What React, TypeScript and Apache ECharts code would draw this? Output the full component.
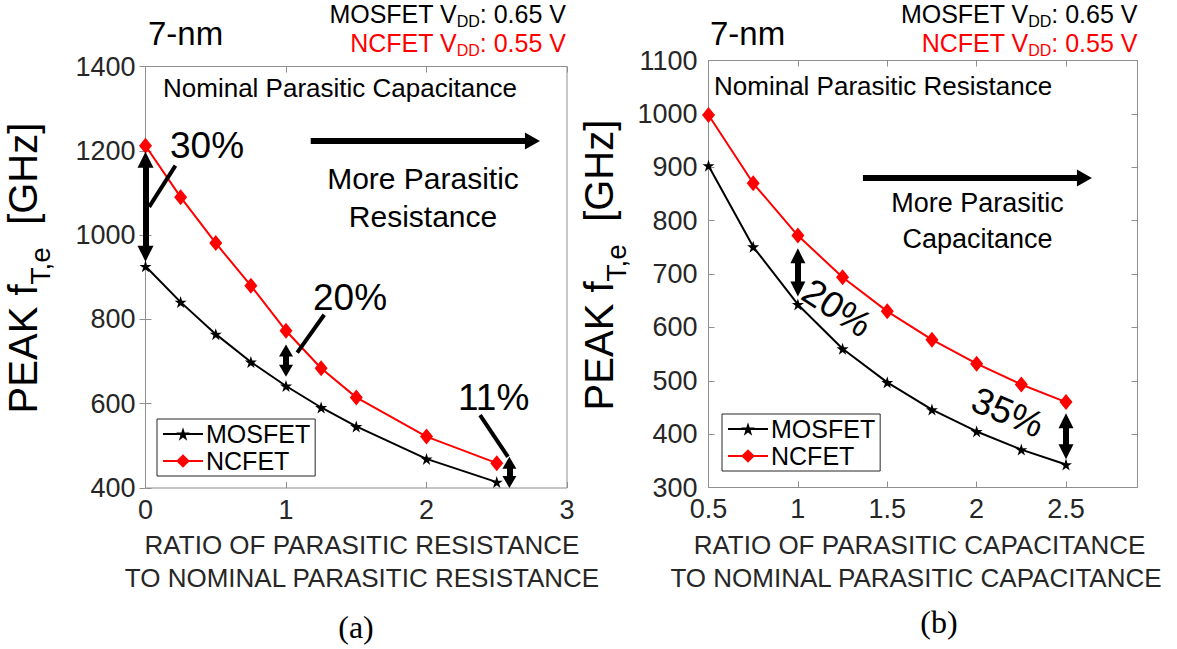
import React, { useEffect, useRef } from 'react';
import * as echarts from 'echarts';

// ---------- data ----------
const resRatio = [0, 0.25, 0.5, 0.75, 1, 1.25, 1.5, 2, 2.5];
const resMosfet = [926, 841, 765, 699, 642, 591, 546, 469, 414];
const resNcfet = [1212, 1090, 981, 880, 773, 684, 615, 522, 459];

const capRatio = [0.5, 0.75, 1, 1.25, 1.5, 1.75, 2, 2.25, 2.5];
const capMosfet = [903, 751, 643, 560, 497, 446, 405, 371, 343];
const capNcfet = [998, 870, 772, 694, 630, 577, 532, 493, 460];

const resXRange = { min: 0, max: 3, interval: 1 };
const resYRange = { min: 400, max: 1400, interval: 200 };
const capXRange = { min: 0.5, max: 2.9, interval: 0.5 };
const capYRange = { min: 300, max: 1100, interval: 100 };

const seriesNames = ['MOSFET', 'NCFET'];

// annotation arrows (data coordinates)
const resGapArrows = [
  { x: 0, from: 1179, to: 956, head: [16, 16] },
  { x: 1, from: 726, to: 678, head: [14, 12] },
  { x: 2.59, from: 460, to: 414, head: [14, 12] },
];
const resPointers = [
  [[0.213, 1165], [0.026, 1067]],
  [[1.272, 811], [1.08, 721]],
  [[2.381, 573], [2.58, 474]],
];
const resTrendArrow = { y: 1223, from: 1.176, to: 2.754 };

const capGapArrows = [
  { x: 1, from: 734, to: 672, head: [15, 15] },
  { x: 2.5, from: 425, to: 367, head: [15, 15] },
];
const capTrendArrow = { y: 880, from: 1.364, to: 2.603 };

// ---------- styles ----------
const FONT = '"Liberation Sans", Arial, Helvetica, sans-serif';
const SERIF = '"Liberation Serif", "Times New Roman", serif';
const AX = '#8f8f8f';
const LBL = '#262626';
const STAR =
  'path://M50,0L61.8,35.5L99,35.5L68.9,57.4L80.3,92.7L50,70.8L19.7,92.7L31.1,57.4L1,35.5L38.2,35.5Z';

const zip = (xs: number[], ys: number[]) => xs.map((x, i) => [x, ys[i]]);

const HEAD = 'triangle';

function gapLines(arr: { x: number; from: number; to: number; head: number[] }[]) {
  return arr.map((a) => [
    { coord: [a.x, a.from], symbol: HEAD, symbolSize: a.head },
    { coord: [a.x, a.to], symbol: HEAD, symbolSize: a.head },
  ]);
}

function trendLine(a: { y: number; from: number; to: number }) {
  return [
    { coord: [a.from, a.y], symbol: 'none', lineStyle: { width: 6, color: '#000' } },
    { coord: [a.to, a.y], symbol: HEAD, symbolSize: [17, 15] },
  ];
}

const plainNum = (v: number) => String(v);

function xAxisPair(grid: number, r: any, showMax: boolean) {
  const common = {
    type: 'value',
    gridIndex: grid,
    min: r.min,
    max: r.max,
    interval: r.interval,
    splitLine: { show: false },
    axisLine: { show: false },
    axisTick: { show: true, inside: true, length: 6, lineStyle: { color: AX, width: 1 } },
  };
  return [
    {
      ...common,
      position: 'bottom',
      axisLabel: {
        show: true,
        color: LBL,
        fontSize: 27,
        fontFamily: FONT,
        margin: 8,
        formatter: plainNum,
        showMaxLabel: showMax,
      },
    },
    { ...common, position: 'top', axisLabel: { show: false } },
  ];
}

function yAxisPair(grid: number, r: any, margin: number) {
  const common = {
    type: 'value',
    gridIndex: grid,
    min: r.min,
    max: r.max,
    interval: r.interval,
    splitLine: { show: false },
    axisLine: { show: false },
    axisTick: { show: true, inside: true, length: 6, lineStyle: { color: AX, width: 1 } },
  };
  return [
    {
      ...common,
      position: 'left',
      axisLabel: { show: true, color: LBL, fontSize: 27, fontFamily: FONT, margin, formatter: plainNum },
    },
    { ...common, position: 'right', axisLabel: { show: false } },
  ];
}

function txt(x: number, y: number, text: string, size: number, o: any = {}) {
  return {
    type: 'text',
    x,
    y,
    z: 100,
    silent: true,
    rotation: o.rotation || 0,
    style: {
      text,
      fontSize: size,
      fontFamily: o.fontFamily || FONT,
      fill: o.fill || '#000',
      align: o.align || 'left',
      verticalAlign: 'middle',
      rich: o.rich,
    },
  };
}

function vddText(x: number, y: number, dev: string, v: string, fill: string) {
  const m = { fontSize: 25, lineHeight: 25, verticalAlign: 'bottom', padding: [0, 0, 3, 0], fill, fontFamily: FONT };
  const s = { fontSize: 16, lineHeight: 16, verticalAlign: 'bottom', fill, fontFamily: FONT };
  return txt(x, y, `{m|${dev} V}{s|DD}{m|: ${v} V}`, 25, { align: 'right', fill, rich: { m, s } });
}

function yLabel(x: number, y: number) {
  const m = { fontSize: 40, lineHeight: 40, verticalAlign: 'bottom', padding: [0, 0, 12, 0], fill: '#000', fontFamily: FONT };
  const s = { fontSize: 28, lineHeight: 28, verticalAlign: 'bottom', fill: '#000', fontFamily: FONT };
  return txt(x, y, '{m|PEAK f}{s|T,e}{m|  [GHz]}', 40, { align: 'center', rotation: Math.PI / 2, rich: { m, s } });
}

function lineSeries(name: string, xi: number, xs: number[], ys: number[], extra: any = {}) {
  const isMos = name === 'MOSFET';
  return {
    name,
    type: 'line',
    xAxisIndex: xi,
    yAxisIndex: xi,
    data: zip(xs, ys),
    symbol: isMos ? STAR : 'diamond',
    symbolSize: isMos ? 12 : [13, 16],
    showAllSymbol: true,
    clip: false,
    lineStyle: { color: isMos ? '#000' : '#ff0000', width: 2 },
    itemStyle: { color: isMos ? '#000' : '#ff0000' },
    emphasis: { disabled: true },
    z: 3,
    ...extra,
  };
}

function markLines(data: any[], width: number) {
  return {
    markLine: {
      silent: true,
      animation: false,
      symbol: ['none', 'none'],
      label: { show: false },
      emphasis: { disabled: true },
      lineStyle: { color: '#000', width, type: 'solid', opacity: 1 },
      data,
    },
  };
}

function legend(left: number, top: number) {
  return {
    data: seriesNames,
    orient: 'vertical',
    left,
    top,
    selectedMode: false,
    backgroundColor: '#fff',
    borderColor: '#262626',
    borderWidth: 1,
    borderRadius: 0,
    padding: [2, 5, 2, 5],
    itemGap: 1,
    itemWidth: 40,
    itemHeight: 17,
    textStyle: { fontSize: 25, fontFamily: FONT, color: '#000', lineHeight: 26, padding: [0, 0, 0, -2] },
  };
}

export default function App() {
  const ref = useRef<HTMLDivElement>(null);
  useEffect(() => {
    if (!ref.current) return;
    const chart = echarts.init(ref.current, undefined, { renderer: 'svg' });
    const option: any = {
      animation: false,
      backgroundColor: '#fff',
      textStyle: { fontFamily: FONT },
      grid: [
        { left: 145.5, top: 66.5, width: 421.5, height: 421.5, show: true, borderColor: AX, borderWidth: 1, backgroundColor: 'transparent', containLabel: false, outerBoundsMode: 'none' },
        { left: 708.5, top: 60.5, width: 429, height: 427, show: true, borderColor: AX, borderWidth: 1, backgroundColor: 'transparent', containLabel: false, outerBoundsMode: 'none' },
      ],
      xAxis: [...xAxisPair(0, resXRange, true), ...xAxisPair(1, capXRange, false)],
      yAxis: [...yAxisPair(0, resYRange, 10), ...yAxisPair(1, capYRange, 11)],
      legend: [legend(157, 419), legend(722, 414)],
      series: [
        lineSeries('MOSFET', 0, resRatio, resMosfet, markLines([...gapLines(resGapArrows), trendLine(resTrendArrow)], 6)),
        lineSeries('NCFET', 0, resRatio, resNcfet, markLines(resPointers.map((p) => [{ coord: p[0] }, { coord: p[1] }]), 4)),
        lineSeries('MOSFET', 2, capRatio, capMosfet, markLines([...gapLines(capGapArrows), trendLine(capTrendArrow)], 6)),
        lineSeries('NCFET', 2, capRatio, capNcfet),
      ],
      graphic: [
        // left panel
        txt(148, 33, '7-nm', 33),
        vddText(566, 17, 'MOSFET', '0.65', '#000'),
        vddText(566, 46, 'NCFET', '0.55', '#ff0000'),
        txt(163, 88, 'Nominal Parasitic Capacitance', 26),
        txt(170, 145, '30%', 37),
        txt(423, 178, 'More Parasitic', 30, { align: 'center' }),
        txt(423, 216, 'Resistance', 30, { align: 'center' }),
        txt(313, 297, '20%', 37),
        txt(458, 397, '11%', 37),
        txt(362, 545, 'RATIO OF PARASITIC RESISTANCE', 26, { align: 'center', fill: LBL }),
        txt(362, 578, 'TO NOMINAL PARASITIC RESISTANCE', 26, { align: 'center', fill: LBL }),
        txt(356, 627, '(a)', 32, { align: 'center', fontFamily: SERIF }),
        yLabel(34.5, 268),
        // right panel
        txt(710, 33, '7-nm', 33),
        vddText(1137.5, 17, 'MOSFET', '0.65', '#000'),
        vddText(1137.5, 46, 'NCFET', '0.55', '#ff0000'),
        txt(714, 86, 'Nominal Parasitic Resistance', 26),
        txt(977.5, 203, 'More Parasitic', 27, { align: 'center' }),
        txt(977.5, 239, 'Capacitance', 27, { align: 'center' }),
        txt(837, 308, '20%', 37, { align: 'center', rotation: (-33 * Math.PI) / 180 }),
        txt(1008, 412, '35%', 37, { align: 'center', rotation: (-23 * Math.PI) / 180 }),
        txt(919.5, 545, 'RATIO OF PARASITIC CAPACITANCE', 26, { align: 'center', fill: LBL }),
        txt(916, 578, 'TO NOMINAL PARASITIC CAPACITANCE', 26, { align: 'center', fill: LBL }),
        txt(939, 622, '(b)', 32, { align: 'center', fontFamily: SERIF }),
        yLabel(610.5, 265),
      ],
    };
    chart.setOption(option);
    return () => chart.dispose();
  }, []);
  return (
    <div
      ref={ref}
      style={{ position: 'fixed', left: 0, top: 0, width: 1177, height: 649, background: '#fff' }}
    />
  );
}
